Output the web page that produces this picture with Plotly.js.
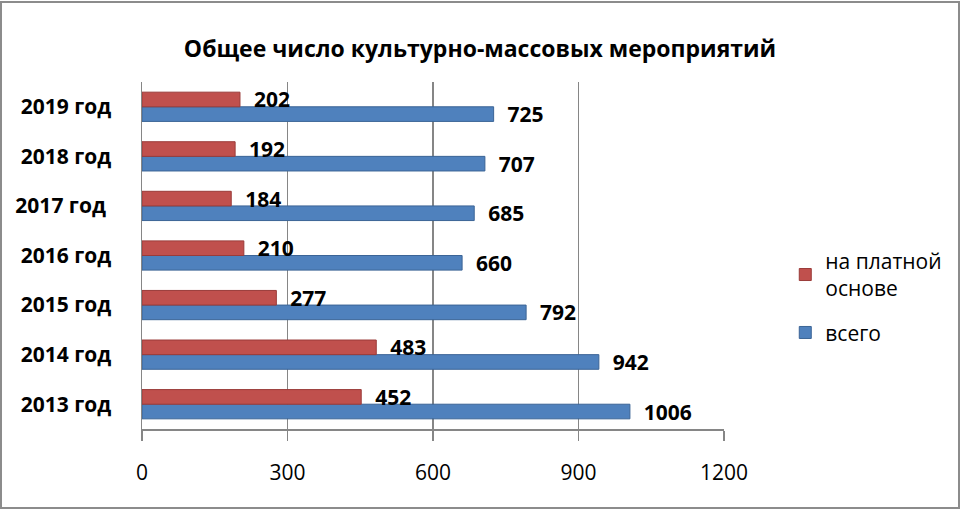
<!DOCTYPE html>
<html>
<head>
<meta charset="utf-8">
<script src="https://cdn.plot.ly/plotly-3.0.1.min.js"></script>
<style>
  html, body { margin: 0; padding: 0; background: #fff; }
  #wrap { position: relative; width: 960px; height: 510px; }
  #chart { position: absolute; left: 0; top: 0; width: 960px; height: 510px; }
  #frame {
    position: absolute; left: 0; top: 1px; width: 956px; height: 504px;
    border: 2px solid #8c8c8c; pointer-events: none;
  }
</style>
</head>
<body>
<div id="wrap">
  <div id="chart"></div>
  <div id="frame"></div>
</div>
<script>
const years = ["2013 год", "2014 год", "2015 год", "2016 год", "2017 год ", "2018 год", "2019 год"];
const paid = [452, 483, 277, 210, 184, 192, 202];
const total = [1006, 942, 792, 660, 685, 707, 725];
const xTicks = [0, 300, 600, 900, 1200];

const FONT = "'Open Sans', 'DejaVu Sans', sans-serif";

const totalTrace = {
  type: "bar",
  orientation: "h",
  name: "всего",
  legendgroup: "total",
  legendrank: 2,
  y: years,
  x: total,
  marker: { color: "#4f81bd", line: { color: "#3b6496", width: 1 } },
  text: total.map(v => String(v)),
  texttemplate: "  %{text}",
  textposition: "outside",
  constraintext: "none",
  cliponaxis: false,
  textfont: { family: FONT, size: 21, color: "#000", weight: 700 },
  hoverinfo: "skip",
};

const paidTrace = {
  type: "bar",
  orientation: "h",
  name: "на платной<br>основе",
  legendgroup: "paid",
  legendrank: 1,
  y: years,
  x: paid,
  marker: { color: "#c0504d", line: { color: "#9a3b39", width: 1 } },
  text: paid.map(v => String(v)),
  texttemplate: "  %{text}",
  textposition: "outside",
  constraintext: "none",
  cliponaxis: false,
  textfont: { family: FONT, size: 21, color: "#000", weight: 700 },
  hoverinfo: "skip",
};

const layout = {
  width: 960,
  height: 510,
  margin: { l: 142, r: 236, t: 82, b: 81, autoexpand: false },
  paper_bgcolor: "#fff",
  plot_bgcolor: "rgba(0,0,0,0)",
  font: { family: FONT, color: "#000" },
  barmode: "group",
  bargap: 0.41,
  bargroupgap: 0,
  showlegend: true,
  title: {
    text: "Общее число культурно-массовых мероприятий",
    font: { family: FONT, size: 23, color: "#000", weight: 700 },
    x: 0.5,
    xref: "container",
    xanchor: "center",
    y: 1,
    yref: "container",
    yanchor: "top",
    pad: { t: 41 },
  },
  xaxis: {
    range: [0, 1200],
    tickvals: xTicks,
    ticktext: xTicks.map(String),
    showgrid: true,
    gridcolor: "#868686",
    gridwidth: 1.5,
    zeroline: false,
    showline: true,
    linecolor: "#868686",
    linewidth: 1.5,
    ticks: "outside",
    ticklen: 10,
    tickcolor: "#868686",
    tickwidth: 1.5,
    ticklabelstandoff: 14,
    tickfont: { family: FONT, size: 21, color: "#000" },
    fixedrange: true,
  },
  yaxis: {
    showgrid: false,
    zeroline: false,
    showline: true,
    linecolor: "#868686",
    linewidth: 1.5,
    ticks: "",
    ticklabelstandoff: 25,
    tickfont: { family: FONT, size: 21, color: "#000", weight: 700 },
    fixedrange: true,
  },
  legend: {
    xref: "container",
    yref: "container",
    x: 0.818,
    xanchor: "left",
    y: 0.528,
    yanchor: "top",
    traceorder: "grouped",
    font: { family: FONT, size: 21, color: "#000" },
    itemwidth: 30,
    tracegroupgap: 14,
    bgcolor: "rgba(0,0,0,0)",
  },
};

Plotly.newPlot("chart", [totalTrace, paidTrace], layout, { displayModeBar: false, staticPlot: true });
</script>
</body>
</html>
